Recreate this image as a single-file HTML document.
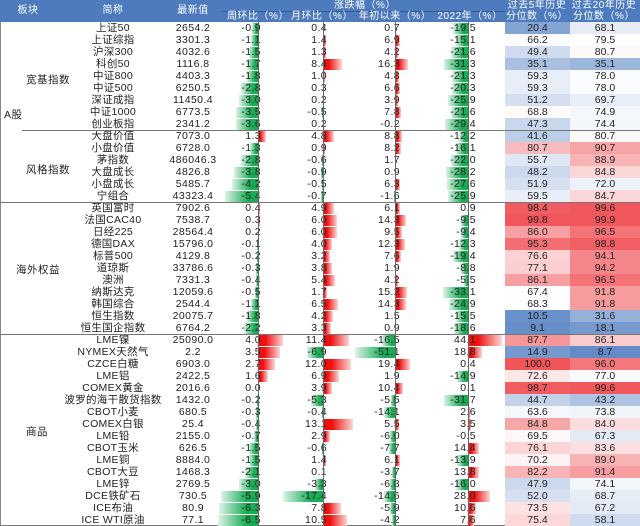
<!DOCTYPE html>
<html><head><meta charset="utf-8"><style>
body{margin:0;width:640px;height:526px;overflow:hidden;background:#fff;font-family:"Liberation Sans","Noto Sans CJK SC",sans-serif;color:#222;position:relative}
.hd{position:absolute;left:0;top:0;width:640px;height:22px;background:#4d7bbd}
.h{position:absolute;color:#fff;font-size:10px;font-weight:normal;letter-spacing:.5px;white-space:nowrap;transform:translateX(-50%);line-height:11px}
.r{position:absolute;left:0;width:640px;height:12px;font-size:10.5px;line-height:12px}
.r span{position:absolute;top:0;white-space:nowrap;z-index:2}
.n{left:63px;width:100px;text-align:center;letter-spacing:.3px}
.v{left:163px;width:60px;text-align:center;letter-spacing:.4px}
.w{right:379px;letter-spacing:.4px}.m{right:313px;letter-spacing:.4px}.y{right:240px;letter-spacing:.4px}.t{right:164px;letter-spacing:.4px}
.r span.p5{left:505px;width:65px;height:12px;text-align:center;z-index:1}
.r span.p20{left:570px;width:70px;height:12px;text-align:center;z-index:1}
.bar{position:absolute;top:0.5px;height:11px;z-index:1}
.ax{position:absolute;top:22px;height:504px;width:1px;background:#666;z-index:3}
.sep{position:absolute;height:1px;background:#777;right:0;z-index:4}
.lab{position:absolute;font-size:10.5px;white-space:nowrap;letter-spacing:.5px}
</style></head><body>
<div class="hd"></div>
<div style="position:absolute;left:222px;top:11px;width:283px;height:1px;background:#2f5a96"></div>
<div class="h" style="left:28px;top:5px">板块</div>
<div class="h" style="left:113px;top:5px">简称</div>
<div class="h" style="left:193px;top:5px">最新值</div>
<div class="h" style="left:365px;top:0px">涨跌幅（%）</div>
<div class="h" style="left:258px;top:11px">周环比（%）</div>
<div class="h" style="left:322px;top:11px">月环比（%）</div>
<div class="h" style="left:395px;top:11px">年初以来（%）</div>
<div class="h" style="left:470px;top:11px">2022年（%）</div>
<div class="h" style="left:537px;top:0px">过去5年历史</div>
<div class="h" style="left:537px;top:11px">分位数（%）</div>
<div class="h" style="left:604px;top:0px">过去20年历史</div>
<div class="h" style="left:604px;top:11px">分位数（%）</div>

<div class="ax" style="left:258px"></div><div class="ax" style="left:323px"></div><div class="ax" style="left:395px"></div><div class="ax" style="left:468px"></div>
<div class="sep" style="left:22px;top:130px"></div>
<div class="sep" style="left:0;top:202px"></div>
<div class="sep" style="left:0;top:334px"></div>
<div style="position:absolute;left:0;top:22px;width:1px;height:504px;background:#888"></div>
<div style="position:absolute;left:0;top:525px;width:640px;height:1px;background:#777"></div>

<div class="lab" style="left:4px;top:107px">A股</div>
<div class="lab" style="left:26px;top:72px">宽基指数</div>
<div class="lab" style="left:26px;top:162px">风格指数</div>
<div class="lab" style="left:16px;top:262px">海外权益</div>
<div class="lab" style="left:26px;top:424px">商品</div>

<div id="rows">
<div class="r"><span class="n">上证50</span><span class="v">2654.2</span><span class="w">-0.9</span><span class="m">0.4</span><span class="y">0.7</span><span class="t">-19.5</span><span class="p5">20.4</span><span class="p20">68.1</span></div>
<div class="r"><span class="n">上证综指</span><span class="v">3301.3</span><span class="w">-1.1</span><span class="m">1.4</span><span class="y">6.9</span><span class="t">-15.1</span><span class="p5">66.2</span><span class="p20">79.5</span></div>
<div class="r"><span class="n">沪深300</span><span class="v">4032.6</span><span class="w">-1.5</span><span class="m">1.3</span><span class="y">4.2</span><span class="t">-21.6</span><span class="p5">49.4</span><span class="p20">80.7</span></div>
<div class="r"><span class="n">科创50</span><span class="v">1116.8</span><span class="w">-1.7</span><span class="m">8.4</span><span class="y">16.3</span><span class="t">-31.3</span><span class="p5">35.1</span><span class="p20">35.1</span></div>
<div class="r"><span class="n">中证800</span><span class="v">4403.3</span><span class="w">-1.8</span><span class="m">1.0</span><span class="y">4.8</span><span class="t">-21.3</span><span class="p5">59.3</span><span class="p20">78.0</span></div>
<div class="r"><span class="n">中证500</span><span class="v">6250.5</span><span class="w">-2.8</span><span class="m">0.3</span><span class="y">6.6</span><span class="t">-20.3</span><span class="p5">59.3</span><span class="p20">78.0</span></div>
<div class="r"><span class="n">深证成指</span><span class="v">11450.4</span><span class="w">-3.0</span><span class="m">0.2</span><span class="y">3.9</span><span class="t">-25.9</span><span class="p5">51.2</span><span class="p20">69.7</span></div>
<div class="r"><span class="n">中证1000</span><span class="v">6773.5</span><span class="w">-3.5</span><span class="m">-0.5</span><span class="y">7.8</span><span class="t">-21.6</span><span class="p5">68.8</span><span class="p20">74.9</span></div>
<div class="r"><span class="n">创业板指</span><span class="v">2341.2</span><span class="w">-3.6</span><span class="m">0.2</span><span class="y">-0.2</span><span class="t">-29.4</span><span class="p5">47.3</span><span class="p20">74.4</span></div>
<div class="r"><span class="n">大盘价值</span><span class="v">7073.0</span><span class="w">1.3</span><span class="m">4.8</span><span class="y">8.8</span><span class="t">-12.2</span><span class="p5">41.6</span><span class="p20">80.7</span></div>
<div class="r"><span class="n">小盘价值</span><span class="v">6728.0</span><span class="w">-1.3</span><span class="m">0.9</span><span class="y">8.2</span><span class="t">-16.1</span><span class="p5">80.7</span><span class="p20">90.7</span></div>
<div class="r"><span class="n">茅指数</span><span class="v">486046.3</span><span class="w">-2.8</span><span class="m">-0.6</span><span class="y">1.7</span><span class="t">-22.0</span><span class="p5">55.7</span><span class="p20">88.9</span></div>
<div class="r"><span class="n">大盘成长</span><span class="v">4826.8</span><span class="w">-3.8</span><span class="m">-0.9</span><span class="y">0.9</span><span class="t">-28.2</span><span class="p5">48.2</span><span class="p20">84.8</span></div>
<div class="r"><span class="n">小盘成长</span><span class="v">5485.7</span><span class="w">-4.2</span><span class="m">-0.5</span><span class="y">6.3</span><span class="t">-27.6</span><span class="p5">51.9</span><span class="p20">72.0</span></div>
<div class="r"><span class="n">宁组合</span><span class="v">43323.4</span><span class="w">-5.4</span><span class="m">-0.7</span><span class="y">-1.6</span><span class="t">-25.9</span><span class="p5">59.5</span><span class="p20">84.7</span></div>
<div class="r"><span class="n">英国富时</span><span class="v">7902.6</span><span class="w">0.4</span><span class="m">4.9</span><span class="y">6.1</span><span class="t">0.9</span><span class="p5">98.4</span><span class="p20">99.6</span></div>
<div class="r"><span class="n">法国CAC40</span><span class="v">7538.7</span><span class="w">0.3</span><span class="m">6.0</span><span class="y">14.3</span><span class="t">-9.5</span><span class="p5">99.8</span><span class="p20">99.9</span></div>
<div class="r"><span class="n">日经225</span><span class="v">28564.4</span><span class="w">0.2</span><span class="m">6.0</span><span class="y">9.5</span><span class="t">-9.4</span><span class="p5">86.0</span><span class="p20">96.5</span></div>
<div class="r"><span class="n">德国DAX</span><span class="v">15796.0</span><span class="w">-0.1</span><span class="m">4.0</span><span class="y">12.3</span><span class="t">-12.3</span><span class="p5">95.3</span><span class="p20">98.8</span></div>
<div class="r"><span class="n">标普500</span><span class="v">4129.8</span><span class="w">-0.2</span><span class="m">3.2</span><span class="y">7.6</span><span class="t">-19.4</span><span class="p5">76.6</span><span class="p20">94.1</span></div>
<div class="r"><span class="n">道琼斯</span><span class="v">33786.6</span><span class="w">-0.3</span><span class="m">3.8</span><span class="y">1.9</span><span class="t">-8.8</span><span class="p5">77.1</span><span class="p20">94.2</span></div>
<div class="r"><span class="n">澳洲</span><span class="v">7331.3</span><span class="w">-0.4</span><span class="m">5.4</span><span class="y">4.2</span><span class="t">-5.5</span><span class="p5">86.1</span><span class="p20">96.5</span></div>
<div class="r"><span class="n">纳斯达克</span><span class="v">12059.6</span><span class="w">-0.5</span><span class="m">1.7</span><span class="y">15.2</span><span class="t">-33.1</span><span class="p5">67.4</span><span class="p20">91.8</span></div>
<div class="r"><span class="n">韩国综合</span><span class="v">2544.4</span><span class="w">-1.1</span><span class="m">6.5</span><span class="y">14.3</span><span class="t">-24.9</span><span class="p5">68.3</span><span class="p20">91.8</span></div>
<div class="r"><span class="n">恒生指数</span><span class="v">20075.7</span><span class="w">-1.8</span><span class="m">4.2</span><span class="y">1.5</span><span class="t">-15.5</span><span class="p5">10.5</span><span class="p20">31.6</span></div>
<div class="r"><span class="n">恒生国企指数</span><span class="v">6764.2</span><span class="w">-2.2</span><span class="m">3.3</span><span class="y">0.9</span><span class="t">-18.6</span><span class="p5">9.1</span><span class="p20">18.1</span></div>
<div class="r"><span class="n">LME镍</span><span class="v">25090.0</span><span class="w">4.0</span><span class="m">11.4</span><span class="y">-16.5</span><span class="t">44.1</span><span class="p5">87.7</span><span class="p20">86.1</span></div>
<div class="r"><span class="n">NYMEX天然气</span><span class="v">2.2</span><span class="w">3.5</span><span class="m">-6.9</span><span class="y">-51.1</span><span class="t">18.8</span><span class="p5">14.9</span><span class="p20">8.7</span></div>
<div class="r"><span class="n">CZCE白糖</span><span class="v">6903.0</span><span class="w">2.7</span><span class="m">12.0</span><span class="y">19.4</span><span class="t">0.4</span><span class="p5">100.0</span><span class="p20">96.0</span></div>
<div class="r"><span class="n">LME铝</span><span class="v">2422.5</span><span class="w">1.6</span><span class="m">6.9</span><span class="y">1.9</span><span class="t">-14.9</span><span class="p5">72.6</span><span class="p20">77.0</span></div>
<div class="r"><span class="n">COMEX黄金</span><span class="v">2016.6</span><span class="w">0.0</span><span class="m">3.9</span><span class="y">10.4</span><span class="t">0.1</span><span class="p5">98.7</span><span class="p20">99.6</span></div>
<div class="r"><span class="n">波罗的海干散货指数</span><span class="v">1432.0</span><span class="w">-0.2</span><span class="m">-5.3</span><span class="y">-5.5</span><span class="t">-31.7</span><span class="p5">44.7</span><span class="p20">43.2</span></div>
<div class="r"><span class="n">CBOT小麦</span><span class="v">680.5</span><span class="w">-0.3</span><span class="m">-0.4</span><span class="y">-14.1</span><span class="t">2.6</span><span class="p5">63.6</span><span class="p20">73.8</span></div>
<div class="r"><span class="n">COMEX白银</span><span class="v">25.4</span><span class="w">-0.4</span><span class="m">13.1</span><span class="y">5.5</span><span class="t">3.5</span><span class="p5">84.8</span><span class="p20">84.0</span></div>
<div class="r"><span class="n">LME铅</span><span class="v">2155.0</span><span class="w">-0.7</span><span class="m">2.9</span><span class="y">-6.0</span><span class="t">-0.5</span><span class="p5">69.5</span><span class="p20">67.3</span></div>
<div class="r"><span class="n">CBOT玉米</span><span class="v">626.5</span><span class="w">-1.5</span><span class="m">-0.6</span><span class="y">-7.7</span><span class="t">14.4</span><span class="p5">76.1</span><span class="p20">83.6</span></div>
<div class="r"><span class="n">LME铜</span><span class="v">8884.0</span><span class="w">-1.5</span><span class="m">1.4</span><span class="y">6.1</span><span class="t">-13.9</span><span class="p5">70.2</span><span class="p20">89.0</span></div>
<div class="r"><span class="n">CBOT大豆</span><span class="v">1468.3</span><span class="w">-2.1</span><span class="m">0.1</span><span class="y">-3.7</span><span class="t">13.8</span><span class="p5">82.2</span><span class="p20">91.4</span></div>
<div class="r"><span class="n">LME锌</span><span class="v">2769.5</span><span class="w">-3.0</span><span class="m">-3.3</span><span class="y">-6.8</span><span class="t">-16.0</span><span class="p5">47.9</span><span class="p20">74.1</span></div>
<div class="r"><span class="n">DCE铁矿石</span><span class="v">730.5</span><span class="w">-5.9</span><span class="m">-17.4</span><span class="y">-14.6</span><span class="t">28.0</span><span class="p5">52.0</span><span class="p20">68.7</span></div>
<div class="r"><span class="n">ICE布油</span><span class="v">80.9</span><span class="w">-6.3</span><span class="m">7.8</span><span class="y">-5.9</span><span class="t">10.6</span><span class="p5">73.5</span><span class="p20">67.2</span></div>
<div class="r"><span class="n">ICE WTI原油</span><span class="v">77.1</span><span class="w">-6.5</span><span class="m">10.5</span><span class="y">-4.2</span><span class="t">7.6</span><span class="p5">75.4</span><span class="p20">58.1</span></div>
</div>
<script>
var rows=document.querySelectorAll('#rows .r');
var cols=[['w',258,6.2],['m',323,2.3],['y',395,0.78],['t',468,0.77]];
function heat(v,mid){var c;
 if(v<mid){var t=(mid-v)/mid;c=[255+(79-255)*t,255+(125-255)*t,255+(192-255)*t];}
 else{var t=(v-mid)/(100-mid);c=[255+(240-255)*t,255+(85-255)*t,255+(90-255)*t];}
 return 'rgb('+c.map(Math.round).join(',')+')';}
rows.forEach(function(r,i){
 r.style.top=(22+i*12)+'px';
 cols.forEach(function(c){
  var v=parseFloat(r.querySelector('.'+c[0]).textContent);
  var w=Math.abs(v)*c[2]; if(w<0.5)return;
  var b=document.createElement('div');b.className='bar';
  if(v>0){b.style.left=c[1]+'px';b.style.width=w+'px';b.style.background='linear-gradient(to right,#f01010 30%,#fcd6d6)';}
  else{b.style.left=(c[1]-w)+'px';b.style.width=w+'px';b.style.background='linear-gradient(to left,#18ad55 30%,#dcf3e6)';}
  r.appendChild(b);
 });
 var p5=r.querySelector('.p5'),p20=r.querySelector('.p20');
 p5.style.background=heat(parseFloat(p5.textContent),68);
 p20.style.background=heat(parseFloat(p20.textContent),80);
});
</script>
</body></html>
